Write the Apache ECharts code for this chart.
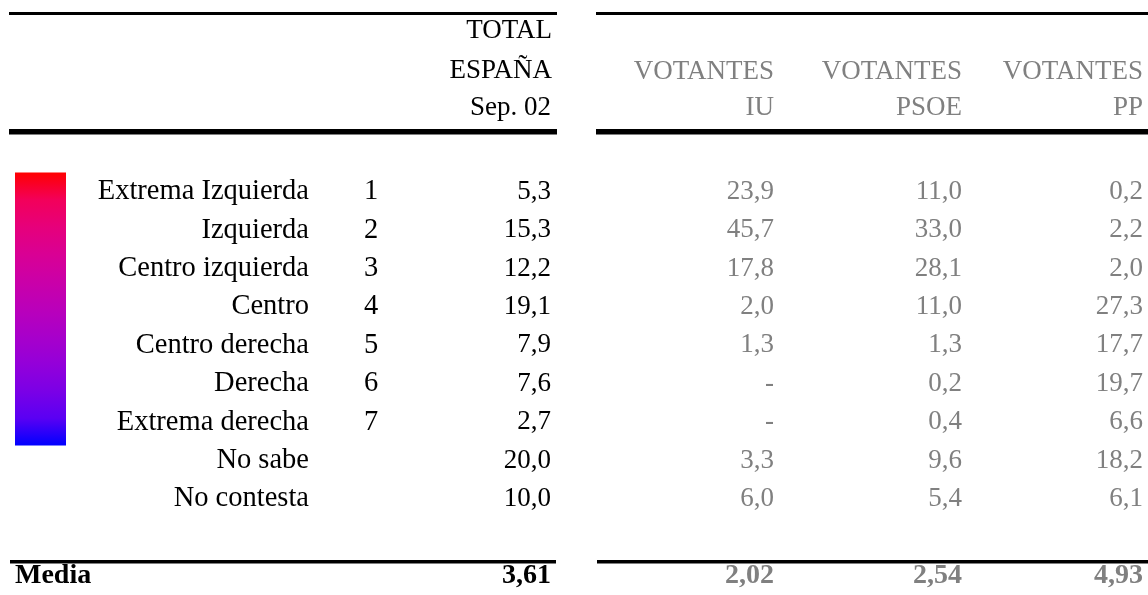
<!DOCTYPE html>
<html>
<head>
<meta charset="utf-8">
<title>Escala ideológica</title>
<script src="https://cdn.jsdelivr.net/npm/echarts@6/dist/echarts.min.js"></script>
<style>
  html, body { margin: 0; padding: 0; background: #fff; }
  #chart { width: 1148px; height: 595px; }
</style>
</head>
<body>
<div id="chart"></div>
<script>
// datos de la tabla
const categorias = ["Extrema Izquierda", "Izquierda", "Centro izquierda", "Centro", "Centro derecha", "Derecha", "Extrema derecha", "No sabe", "No contesta"]
const escala = ["1", "2", "3", "4", "5", "6", "7", "", ""]
const totalEspana = [5.3, 15.3, 12.2, 19.1, 7.9, 7.6, 2.7, 20.0, 10.0]
const votantesIU = [23.9, 45.7, 17.8, 2.0, 1.3, null, null, 3.3, 6.0]
const votantesPSOE = [11.0, 33.0, 28.1, 11.0, 1.3, 0.2, 0.4, 9.6, 5.4]
const votantesPP = [0.2, 2.2, 2.0, 27.3, 17.7, 19.7, 6.6, 18.2, 6.1]
const mediaValores = [3.61, 2.02, 2.54, 4.93]
const cabeceraTotal = ["TOTAL", "ESPAÑA", "Sep. 02"]
const cabeceraVotantes = ["IU", "PSOE", "PP"]

// maquetación (px)
const FUENTE = "'Liberation Serif', 'Times New Roman', serif"
const TAM = 27
const TAM_ETIQ = 28.5
const GRIS = "#808080"
const FILA = 39
const TOP = 172.5
const colX = { etiqueta: 309, escala: 371, total: 551, iu: 774, psoe: 962, pp: 1143, media: 15 }

const filas = [...categorias, "", "Media"]
const idxMedia = filas.length - 1

function fmt(v, d) {
	return v == null ? "-" : v.toFixed(d).replace(".", ",")
}

function columna(textos, x, align, color, tam, bold, filasIdx) {
	return {
		type: "scatter",
		silent: true,
		symbolSize: 1,
		// el scatter trae opacidad 0.8 por defecto, y la etiqueta la hereda
		itemStyle: { color: "rgba(0,0,0,0)", opacity: 1 },
		label: {
			show: true,
			position: "inside",
			align: align,
			verticalAlign: "middle",
			color: color,
			opacity: 1,
			fontFamily: FUENTE,
			fontSize: tam,
			fontWeight: bold ? "bold" : "normal",
			formatter: (p) => textos[p.dataIndex],
		},
		data: textos.map((t, i) => [x, filasIdx ? filasIdx[i] : i]),
	}
}

function filaMedia(texto, x, color) {
	const esEtiqueta = x === colX.media
	return columna([texto], x, esEtiqueta ? "left" : "right", color, 28, true, [idxMedia])
}

// degradado rojo -> azul (mezcla con corrección gamma, más viva en el centro)
const paradas = []
for (let k = 0; k <= 10; k++) {
	const t = k / 10
	const r = Math.round(255 * Math.pow(1 - t, 1 / 2.2))
	const b = Math.round(255 * Math.pow(t, 1 / 2.2))
	paradas.push({ offset: t, color: "rgb(" + r + ",0," + b + ")" })
}

let myChart = echarts.init(document.getElementById("chart"))

const reglas = []
function regla(x1, x2, y, h) {
	reglas.push({ type: "rect", silent: true, shape: { x: x1, y: y, width: x2 - x1, height: h }, style: { fill: "#000" } })
}
regla(9, 557, 12, 3)
regla(596, 1148, 12, 3)
regla(9, 557, 129, 5.5)
regla(596, 1148, 129, 5.5)
regla(10, 556, 560, 3.5)
regla(597, 1148, 560, 3.5)

const textos = []
function texto(t, x, y, color) {
	textos.push({
		type: "text",
		silent: true,
		x: x,
		y: y,
		style: { text: t, fill: color, font: TAM + "px " + FUENTE, align: "right", verticalAlign: "middle", textAlign: "right", textVerticalAlign: "middle" },
	})
}
texto(cabeceraTotal[0], colX.total + 1, 31, "#000")
texto(cabeceraTotal[1], colX.total + 1, 71, "#000")
texto(cabeceraTotal[2], colX.total, 108, "#000")
;[colX.iu, colX.psoe, colX.pp].forEach((x, i) => {
	texto("VOTANTES", x, 72, GRIS)
	texto(cabeceraVotantes[i], x, 108, GRIS)
})

let option = {
	animation: false,
	grid: { left: 0, right: 0, top: TOP, height: FILA * filas.length },
	xAxis: { type: "value", min: 0, max: 1148, show: false },
	yAxis: { type: "category", data: filas, inverse: true, show: false },
	graphic: [
		{
			type: "rect",
			silent: true,
			shape: { x: 15, y: TOP, width: 51, height: FILA * 7 },
			style: { fill: new echarts.graphic.LinearGradient(0, 0, 0, 1, paradas) },
		},
		...reglas,
		...textos,
	],
	series: [
		columna(categorias, colX.etiqueta, "right", "#000", TAM_ETIQ),
		columna(escala, colX.escala, "center", "#000", TAM_ETIQ),
		columna(totalEspana.map((v) => fmt(v, 1)), colX.total, "right", "#000", TAM),
		columna(votantesIU.map((v) => fmt(v, 1)), colX.iu, "right", GRIS, TAM),
		columna(votantesPSOE.map((v) => fmt(v, 1)), colX.psoe, "right", GRIS, TAM),
		columna(votantesPP.map((v) => fmt(v, 1)), colX.pp, "right", GRIS, TAM),
		filaMedia("Media", colX.media, "#000"),
		filaMedia(fmt(mediaValores[0], 2), colX.total, "#000"),
		filaMedia(fmt(mediaValores[1], 2), colX.iu, GRIS),
		filaMedia(fmt(mediaValores[2], 2), colX.psoe, GRIS),
		filaMedia(fmt(mediaValores[3], 2), colX.pp, GRIS),
	],
}
myChart.setOption(option)
</script>
</body>
</html>
